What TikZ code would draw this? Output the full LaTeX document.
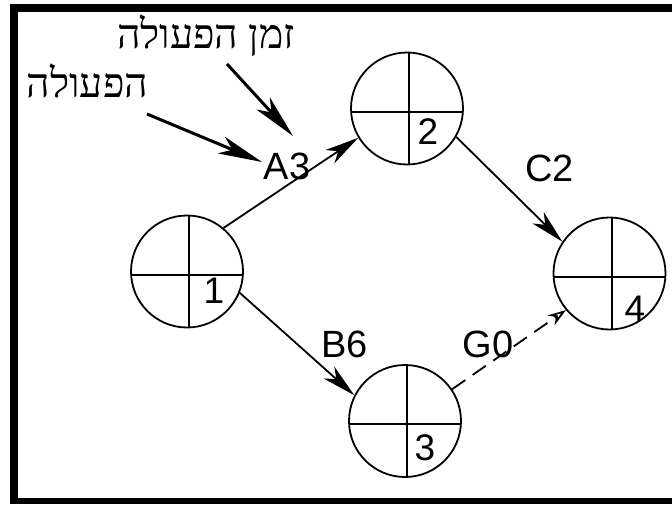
\documentclass[tikz,border=0pt]{standalone}
\usepackage{fontspec}
\setmainfont{Liberation Sans}
\newfontfamily\hebfont[Script=Hebrew]{Liberation Serif}
\TeXXeTstate=1
\usetikzlibrary{arrows.meta}
\begin{document}
\begin{tikzpicture}[x=1pt,y=-1pt,
  event/.style={circle,draw,line width=1.8pt,minimum size=112pt,inner sep=0pt,
    path picture={
      \draw[line width=2pt] ([xshift=2pt]path picture bounding box.north) -- ([xshift=2pt]path picture bounding box.south);
      \draw[line width=2pt] ([yshift=-3pt]path picture bounding box.west) -- ([yshift=-3pt]path picture bounding box.east);
    }},
  num/.style={font=\fontsize{37}{39}\selectfont,inner sep=0pt},
  lab/.style={font=\fontsize{38}{40}\selectfont,inner sep=0pt},
  heb/.style={font=\hebfont\fontsize{41}{43}\selectfont,inner sep=0pt,anchor=base},
  act/.style={line width=1.8pt,-{Stealth[length=34pt,width=16pt,inset=10pt]}},
  dummy/.style={line width=1.8pt,dash pattern=on 16pt off 9pt,-{Stealth[open,length=18pt,width=12pt]}},
  note/.style={line width=3pt,-{Stealth[length=44pt,width=18pt,inset=12pt]}},
  frame/.style={fill=black}
]
\useasboundingbox (0,0) rectangle (672,504);
% frame
\fill[frame] (10,4) rectangle (672,12);
\fill[frame] (10,4) rectangle (18,504);
\fill[frame] (10,498) rectangle (672,504);

% events
\node[event] (n1) at (187,271.5) {};
\node[event] (n2) at (407,108.5) {};
\node[event] (n3) at (405,421) {};
\node[event] (n4) at (609.5,273.5) {};

\node[num] (t1) at (214,291) {1};
\node[num] (t2) at (428,132) {2};
\node[num] (t3) at (425,448) {3};
\node[num] (t4) at (635,308.5) {4};

% activity labels
\node[lab] (a3) at (287,166.5) {A3};
\node[lab] (c2) at (549.5,168.5) {C2};
\node[lab] (b6) at (344.5,344) {B6};
\node[lab] (g0) at (488,344) {G0};

% activities
\draw[act] (n1.50) -- (n2.211);
\draw[act] (n2.-30) -- (n4.146);
\draw[act] (n1.-22) -- (n3.153);
\draw[dummy] (n3.34) -- (n4.220);

% hebrew notes
\node[heb] (h1) at (206,48) {\beginR זמן הפעולה\endR};
\node[heb] (h2) at (87.5,97) {\beginR הפעולה\endR};

\coordinate (s1) at (227,64);
\coordinate (e1) at (293,136);
\coordinate (s2) at (147,114);
\coordinate (e2) at (262,162);
\draw[note] (s1) -- (e1);
\draw[note] (s2) -- (e2);
\end{tikzpicture}
\end{document}
